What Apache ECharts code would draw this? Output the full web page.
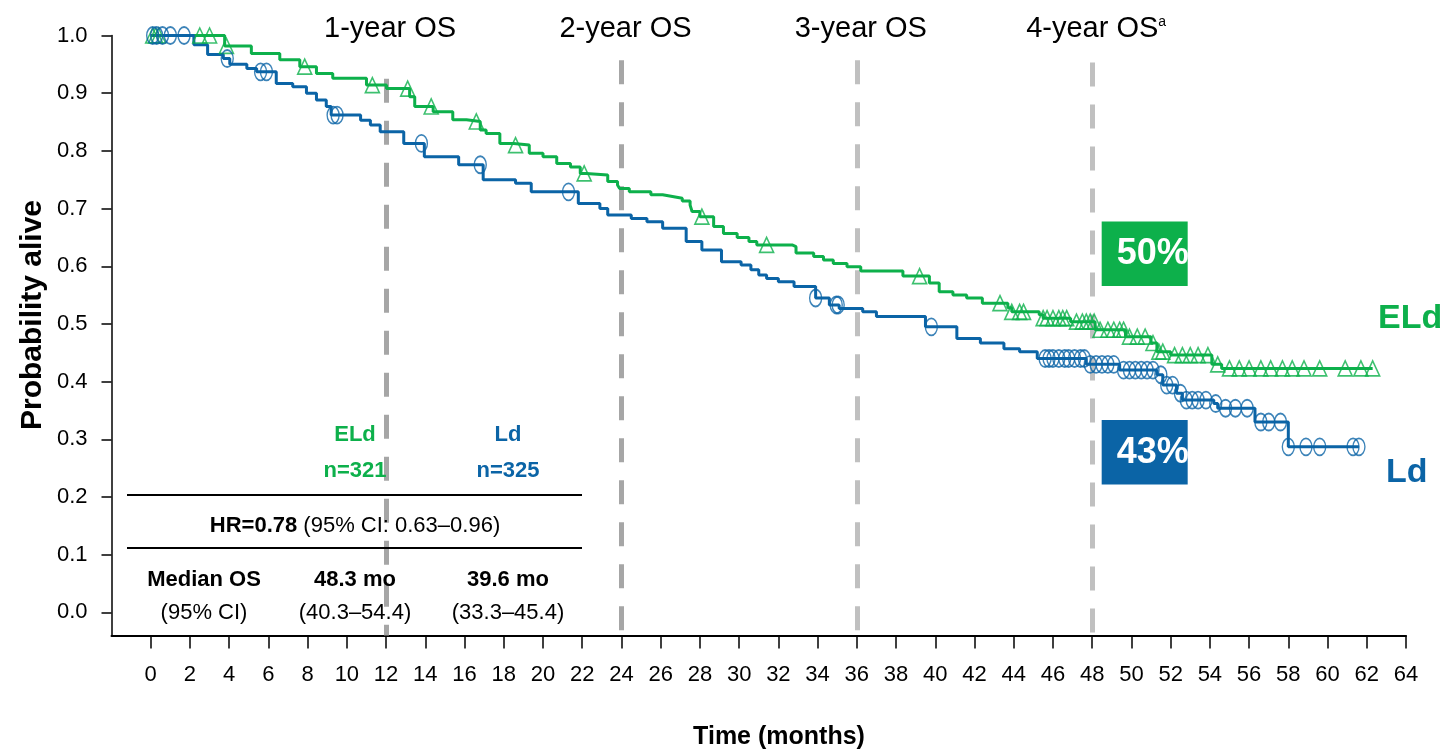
<!DOCTYPE html>
<html>
<head>
<meta charset="utf-8">
<title>Overall survival: ELd vs Ld</title>
<script src="https://cdn.jsdelivr.net/npm/echarts@6/dist/echarts.min.js"></script>
<style>
  html, body { margin: 0; padding: 0; background: #fff; }
  #chart { width: 1441px; height: 751px; }
</style>
</head>
<body>
<div id="chart"></div>
<script>
// ---- axis ticks ----
const xTicks = [0,2,4,6,8,10,12,14,16,18,20,22,24,26,28,30,32,34,36,38,40,42,44,46,48,50,52,54,56,58,60,62,64];
const yTicks = [0,0.1,0.2,0.3,0.4,0.5,0.6,0.7,0.8,0.9,1.0];

// ---- ELd arm: Kaplan-Meier step times (months) and survival after each step ----
const eldTimes = [0,3.77,5.13,6.58,7.6,8.45,9.28,11.0,12.02,13.2,13.46,14.4,15.4,16.1,16.8,17.1,17.8,18.5,19.3,20.0,
  20.7,21.4,21.9,22.2,23.3,23.8,23.9,24.4,25.5,26.1,26.6,27.1,27.5,27.6,28.0,28.7,29.2,29.9,30.5,30.9,
  32.7,32.9,33.8,34.3,34.8,35.5,36.2,38.35,39.7,40.2,40.9,41.6,42.4,43.7,43.9,45.3,45.5,46.9,48.15,49.7,
  51.0,51.3,52.0,54.1,54.6];
const eldSurv = [1.0,0.982,0.969,0.958,0.946,0.934,0.926,0.914,0.908,0.894,0.877,0.868,0.854,0.851,0.836,0.830,0.813,0.810,0.796,0.790,
  0.778,0.772,0.761,0.758,0.747,0.741,0.735,0.729,0.724,0.721,0.718,0.713,0.706,0.695,0.686,0.669,0.657,0.650,0.643,0.637,
  0.634,0.623,0.617,0.611,0.605,0.599,0.592,0.583,0.571,0.556,0.550,0.545,0.536,0.528,0.521,0.516,0.510,0.504,0.490,0.478,
  0.467,0.452,0.446,0.430,0.423];
const eldCensored = [0.1,0.25,0.4,2.5,3.0,3.86,7.85,11.3,13.1,14.3,16.6,18.6,22.1,28.1,31.4,39.2,43.3,43.9,44.3,44.5,
  45.5,45.7,46.0,46.3,46.5,46.7,47.2,47.5,47.7,47.9,48.1,48.4,48.8,49.1,49.4,49.6,49.9,50.3,50.7,51.1,
  51.4,51.6,52.2,52.6,53.0,53.4,53.9,54.4,55.0,55.5,56.0,56.6,57.1,57.7,58.2,58.8,59.6,60.9,61.7,62.3];

// ---- Ld arm ----
const ldTimes = [0,2.2,2.9,3.7,4.03,4.9,5.4,6.4,7.24,7.94,8.45,8.95,9.2,10.7,11.2,11.7,12.9,13.95,15.7,16.95,
  18.6,19.4,21.8,22.9,23.3,24.5,25.3,26.1,27.3,28.1,29.1,30.1,30.6,31.0,31.4,32.0,32.8,33.9,34.6,35.1,
  36.3,37.0,39.5,41.1,42.3,43.5,44.3,45.2,47.7,49.4,51.3,51.6,52.3,52.6,54.2,54.4,56.3,58.0];
const ldSurv = [1.0,0.984,0.967,0.960,0.950,0.943,0.937,0.917,0.911,0.900,0.888,0.877,0.862,0.853,0.845,0.833,0.813,0.790,0.776,0.750,
  0.744,0.729,0.709,0.700,0.689,0.683,0.677,0.666,0.643,0.628,0.608,0.602,0.594,0.585,0.579,0.573,0.565,0.545,0.533,0.527,
  0.521,0.513,0.495,0.475,0.467,0.457,0.452,0.440,0.430,0.420,0.412,0.394,0.380,0.368,0.362,0.354,0.330,0.287];
const ldCensored = [0.1,0.3,0.6,1.0,1.7,3.9,5.6,5.9,9.3,9.5,13.8,16.8,21.3,33.9,34.95,35.05,39.8,45.6,45.8,46.0,
  46.3,46.6,46.8,47.1,47.4,47.6,47.9,48.2,48.5,48.8,49.1,49.6,49.9,50.2,50.5,50.8,51.1,51.5,51.8,52.1,
  52.5,52.8,53.1,53.4,53.8,54.3,54.8,55.3,55.9,56.6,57.0,57.6,58.0,58.9,59.6,61.3,61.6];

// ---- landmarks and summary table ----
const landmarkMonths = [12,24,36,48];
const landmarkLabels = ['1-year OS','2-year OS','3-year OS','4-year OS'];
const armNames = ['ELd','Ld'];
const armN = [321,325];
const medianOS = ['48.3','39.6'];
const medianCI = ['40.3–54.4','33.3–45.4'];
const hazardRatio = '0.78';
const hazardCI = '0.63–0.96';

const FONT = '"Liberation Sans", Arial, Helvetica, sans-serif';
const GREEN = '#0db04b';
const BLUE = '#0b64a6';

function survivalAt(times, surv, t) {
  let s = surv[0];
  for (let i = 0; i < times.length; i++) {
    if (times[i] <= t) s = surv[i]; else break;
  }
  return s;
}
function stepCurve(times, surv, censored) {
  const pts = times.map((t, i) => [t, surv[i]]);
  pts.push([censored[censored.length - 1], surv[surv.length - 1]]);
  return pts;
}
function censorMarks(times, surv, censored) {
  return censored.map(t => [t, survivalAt(times, surv, t)]);
}

const chart = echarts.init(document.getElementById('chart'), null, { renderer: 'canvas' });

const landmarkTop = [0.925, 0.957, 0.957, 0.953];
const landmarkColor = ['#a6a6a6', '#a6a6a6', '#c0c0c0', '#c0c0c0'];
const yMin = -0.04;

chart.setOption({
  animation: false,
  backgroundColor: '#fff',
  grid: { left: 111.5, right: 35, top: 35.5, bottom: 115.5, containLabel: false },
  xAxis: {
    type: 'value', min: -2, max: 64,
    axisLine: { show: true, onZero: false, lineStyle: { color: '#000', width: 2 } },
    axisTick: { show: true, customValues: xTicks, length: 13, lineStyle: { color: '#000', width: 1.5 } },
    axisLabel: { customValues: xTicks, margin: 28, fontSize: 22, color: '#000', fontFamily: FONT },
    splitLine: { show: false }
  },
  yAxis: {
    type: 'value', min: yMin, max: 1.0,
    axisLine: { show: true, onZero: false, lineStyle: { color: '#000', width: 1.5 } },
    axisTick: { show: true, customValues: yTicks, length: 10, lineStyle: { color: '#000', width: 1.5 } },
    axisLabel: { customValues: yTicks, margin: 24, fontSize: 22, color: '#000', fontFamily: FONT,
      formatter: v => v.toFixed(1) },
    splitLine: { show: false }
  },
  series: [
    {
      name: 'landmarks', type: 'line', data: [], silent: true,
      markLine: {
        z: 1, silent: true, symbol: ['none', 'none'], label: { show: false },
        lineStyle: { width: 5, type: [24, 18] },
        data: landmarkMonths.map((m, i) => [
          { coord: [m, landmarkTop[i]], lineStyle: { color: landmarkColor[i], width: 5, type: [24, 18] } },
          { coord: [m, yMin] }
        ])
      }
    },
    {
      name: 'ELd', type: 'line', step: 'end', z: 3, clip: false, silent: true,
      showSymbol: false, symbol: 'none',
      data: stepCurve(eldTimes, eldSurv, eldCensored),
      lineStyle: { color: GREEN, width: 3 }
    },
    {
      name: 'Ld', type: 'line', step: 'end', z: 3, clip: false, silent: true,
      showSymbol: false, symbol: 'none',
      data: stepCurve(ldTimes, ldSurv, ldCensored),
      lineStyle: { color: BLUE, width: 3 }
    },
    {
      name: 'ELd censored', type: 'scatter', z: 4, clip: false, silent: true,
      symbol: 'triangle', symbolSize: [14, 15],
      data: censorMarks(eldTimes, eldSurv, eldCensored),
      itemStyle: { color: 'rgba(0,0,0,0)', borderColor: GREEN, borderWidth: 1.6 }
    },
    {
      name: 'Ld censored', type: 'scatter', z: 4, clip: false, silent: true,
      symbol: 'path://M0,-10A7,10 0 1,1 0,10A7,10 0 1,1 0,-10Z', symbolSize: [12, 17],
      data: censorMarks(ldTimes, ldSurv, ldCensored),
      itemStyle: { color: 'rgba(0,0,0,0)', borderColor: BLUE, borderWidth: 1.6 }
    }
  ]
});

// ---- annotations: landmark titles, 4-year boxes, arm labels, summary table ----
const px = v => chart.convertToPixel({ gridIndex: 0 }, v);
const txt = (x, y, text, opts) => ({
  type: 'text', x, y, silent: true, z: 10,
  style: Object.assign({
    text, fill: '#000', fontSize: 22, fontFamily: FONT,
    align: 'center', verticalAlign: 'middle'
  }, opts || {})
});

const g = [];
landmarkMonths.forEach((m, i) => {
  const x = px([m, 0])[0] + 4;
  if (i === landmarkLabels.length - 1) {
    g.push(txt(x, 29, '{m|' + landmarkLabels[i] + '}{s|a}', {
      rich: {
        m: { fontSize: 29, fontFamily: FONT, fill: '#000' },
        s: { fontSize: 14, fontFamily: FONT, fill: '#000', padding: [0, 0, 14, 0] }
      }
    }));
  } else {
    g.push(txt(x, 29, landmarkLabels[i], { fontSize: 29 }));
  }
});

// 4-year survival boxes
const x48 = px([48, 0])[0];
const boxes = [
  { top: 221.5, color: GREEN, value: survivalAt(eldTimes, eldSurv, 48) },
  { top: 420, color: BLUE, value: survivalAt(ldTimes, ldSurv, 48) }
];
boxes.forEach(b => {
  g.push({ type: 'rect', silent: true, z: 8,
    shape: { x: x48 + 9.5, y: b.top, width: 86, height: 64.5 },
    style: { fill: b.color } });
  g.push(txt(x48 + 24.5, b.top + 33, Math.round(b.value * 100) + '%',
    { fill: '#fff', fontSize: 36, fontWeight: 'bold', align: 'left' }));
});

// arm labels at the right end of the curves
g.push(txt(1378, 319, armNames[0], { fill: GREEN, fontSize: 34, fontWeight: 'bold', align: 'left' }));
g.push(txt(1386, 473, armNames[1], { fill: BLUE, fontSize: 34, fontWeight: 'bold', align: 'left' }));

// summary table
const colX = [204, 355, 508];
g.push(txt(colX[1], 435, armNames[0], { fill: GREEN, fontWeight: 'bold' }));
g.push(txt(colX[1], 471, 'n=' + armN[0], { fill: GREEN, fontWeight: 'bold' }));
g.push(txt(colX[2], 435, armNames[1], { fill: BLUE, fontWeight: 'bold' }));
g.push(txt(colX[2], 471, 'n=' + armN[1], { fill: BLUE, fontWeight: 'bold' }));
g.push({ type: 'line', silent: true, z: 10, shape: { x1: 127, y1: 495, x2: 582, y2: 495 }, style: { stroke: '#000', lineWidth: 2 } });
g.push(txt(colX[1], 526, '{b|HR=' + hazardRatio + '} (95% CI: ' + hazardCI + ')', {
  rich: { b: { fontWeight: 'bold', fontSize: 22, fontFamily: FONT, fill: '#000' } }
}));
g.push({ type: 'line', silent: true, z: 10, shape: { x1: 127, y1: 548, x2: 582, y2: 548 }, style: { stroke: '#000', lineWidth: 2 } });
g.push(txt(colX[0], 580, 'Median OS', { fontWeight: 'bold' }));
g.push(txt(colX[0], 613, '(95% CI)'));
g.push(txt(colX[1], 580, medianOS[0] + ' mo', { fontWeight: 'bold' }));
g.push(txt(colX[1], 613, '(' + medianCI[0] + ')'));
g.push(txt(colX[2], 580, medianOS[1] + ' mo', { fontWeight: 'bold' }));
g.push(txt(colX[2], 613, '(' + medianCI[1] + ')'));

// axis titles
g.push(Object.assign(txt(33, 315, 'Probability alive', { fontSize: 30, fontWeight: 'bold' }), { rotation: Math.PI / 2 }));
g.push(txt(779, 737, 'Time (months)', { fontSize: 25, fontWeight: 'bold' }));

chart.setOption({ graphic: g });
</script>
</body>
</html>
